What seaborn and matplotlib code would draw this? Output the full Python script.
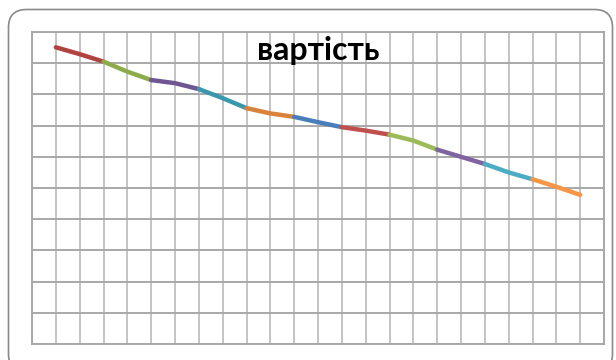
import numpy as np
import pandas as pd
import seaborn as sns
import matplotlib
matplotlib.use("Agg")
import matplotlib.pyplot as plt
from matplotlib.patches import FancyBboxPatch
from matplotlib.transforms import IdentityTransform

# ---- data ----
title = "вартість"
positions = list(range(1, 24))
values = [9.51, 9.29, 9.05, 8.73, 8.46, 8.36, 8.17, 7.88, 7.56, 7.39, 7.28, 7.11,
          6.95, 6.84, 6.71, 6.52, 6.23, 6.00, 5.77, 5.50, 5.28, 5.04, 4.78]
segment_colors = ["#B0433F", "#8DAB4B", "#6F5592", "#3A98AE", "#D9823A", "#4A7EBB",
                  "#C0504D", "#9BBB59", "#8064A2", "#4BACC6", "#F79646"]

rows = []
for s in range(len(segment_colors)):
    for j in range(3):
        i = 2 * s + j
        rows.append({"seg": s, "x": positions[i], "y": values[i]})
df = pd.DataFrame(rows)

sns.set_style("white")
W, H = 616, 360
fig = plt.figure(figsize=(W / 100, H / 100), dpi=100)
fig.patch.set_facecolor("white")

ax = fig.add_axes([32 / W, 16 / H, 572 / W, 312 / H])
ax.set_xlim(0, 24)
ax.set_ylim(0, 10)
ax.set_xticks(np.arange(0, 25, 1))
ax.set_yticks(np.arange(0, 11, 1))
ax.tick_params(length=0, labelbottom=False, labelleft=False)
ax.xaxis.grid(True, color="#BEBEBE", linewidth=1.3)
ax.yaxis.grid(True, color="#A8A8A8", linewidth=1.4)
ax.set_axisbelow(True)
for sp in ax.spines.values():
    sp.set_color("#A8A8A8")
    sp.set_linewidth(1.4)

sns.lineplot(data=df, x="x", y="y", hue="seg", palette=segment_colors,
             linewidth=3.2, legend=False, ax=ax, sort=False,
             solid_capstyle="round", estimator=None)
ax.set_xlabel("")
ax.set_ylabel("")

fig.text(318.5 / W, (H - 60) / H, title, ha="center", va="baseline",
         fontsize=23, fontweight="bold", family=["Lato", "DejaVu Sans"], color="black")

border = FancyBboxPatch((8.5, -12), 604, H - 9.5 + 12,
                        boxstyle="round,pad=0,rounding_size=18",
                        transform=IdentityTransform(), facecolor="none",
                        edgecolor="#8A8A8A", linewidth=1.2)
fig.add_artist(border)

fig.savefig("out.png", dpi=100)
